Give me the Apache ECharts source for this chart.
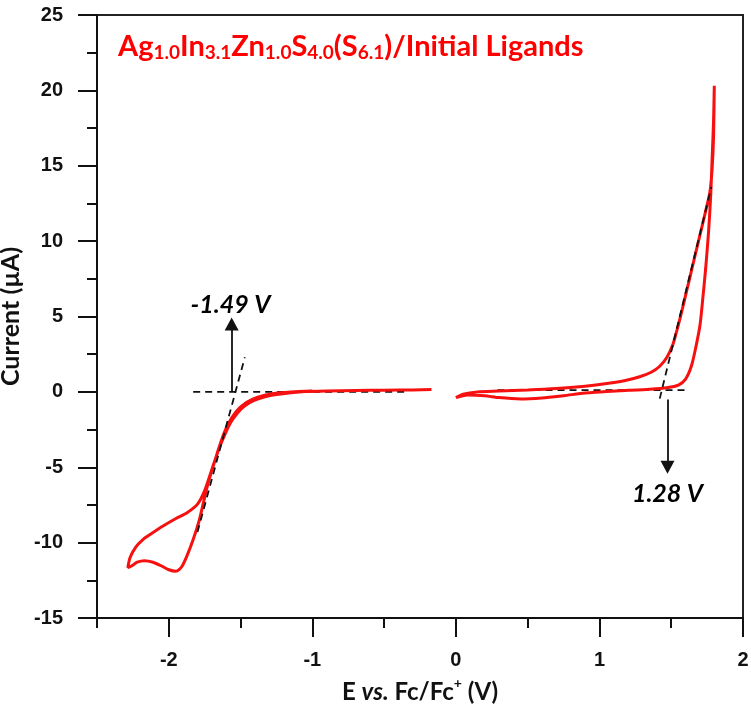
<!DOCTYPE html>
<html>
<head>
<meta charset="utf-8">
<script src="https://cdn.jsdelivr.net/npm/echarts@6/dist/echarts.min.js"></script>
<style>html,body{margin:0;padding:0;background:#fff}#c{width:751px;height:710px}</style>
</head>
<body>
<div id="c"></div>
<script>
// ---- Data ----
var xTickLabels = [-2, -1, 0, 1, 2];
var xMinorTicks = [-2.5, -1.5, -0.5, 0.5, 1.5];
var yTickLabels = [-15, -10, -5, 0, 5, 10, 15, 20, 25];

// Cathodic part of the CV (E in V vs Fc/Fc+, current in µA)
var cvLeftE = [-0.17, -0.3, -0.5, -0.7, -0.9, -1.05, -1.15, -1.25, -1.33, -1.41, -1.47, -1.52, -1.57, -1.61, -1.65, -1.70, -1.75,
  -1.80, -1.87, -1.95, -2.04, -2.12, -2.18, -2.23, -2.27, -2.285,
  -2.26, -2.22, -2.17, -2.11, -2.05, -2.0, -1.95, -1.91, -1.87, -1.83, -1.79, -1.76, -1.73, -1.69, -1.64, -1.59, -1.53, -1.46, -1.38, -1.28, -1.15, -1.0];
var cvLeftI = [0.15, 0.13, 0.11, 0.09, 0.06, 0.02, -0.06, -0.18, -0.33, -0.58, -0.93, -1.38, -2.05, -2.85, -3.75, -5.15, -6.55,
  -7.45, -8.0, -8.4, -8.9, -9.4, -9.8, -10.3, -11.0, -11.65,
  -11.55, -11.3, -11.2, -11.3, -11.55, -11.8, -11.9, -11.6, -10.8, -9.8, -8.6, -7.4, -6.2, -4.9, -3.4, -2.2, -1.3, -0.7, -0.35, -0.12, 0.0, 0.05];

// Anodic part of the CV
var cvRightE = [0.0, 0.08, 0.2, 0.3, 0.45, 0.6, 0.75, 0.9, 1.05, 1.2, 1.35, 1.47, 1.55, 1.6, 1.64, 1.67, 1.70, 1.72, 1.74, 1.76, 1.775, 1.785, 1.795, 1.80,
  1.795, 1.785, 1.77, 1.745, 1.72, 1.69, 1.66, 1.63, 1.60, 1.57, 1.54, 1.51, 1.47, 1.42, 1.36, 1.28, 1.18, 1.05, 0.9, 0.7, 0.5, 0.3, 0.15, 0.05, 0.0];
var cvRightI = [-0.38, -0.2, -0.25, -0.38, -0.47, -0.4, -0.25, -0.08, 0.03, 0.1, 0.18, 0.28, 0.45, 0.85, 1.7, 2.9, 4.4, 6.2, 8.2, 10.6, 13.0, 15.5, 18.0, 20.3,
  17.0, 14.8, 13.3, 12.2, 11.2, 10.0, 8.8, 7.6, 6.4, 5.2, 4.1, 3.1, 2.3, 1.7, 1.3, 1.0, 0.75, 0.55, 0.38, 0.22, 0.12, 0.05, 0.0, -0.15, -0.38];

// Onset construction lines (dashed): [E1, I1, E2, I2]
var leftBaseline = [-1.83, 0.0, -0.35, 0.0];
var leftTangent = [-1.80, -9.3, -1.47, 2.3];
var rightBaseline = [0.29, 0.12, 1.62, 0.12];
var rightTangent = [1.42, -0.45, 1.78, 13.6];

// Arrows: [E, I start, I end]
var leftArrow = [-1.562, 0.0, 4.5];
var rightArrow = [1.474, -0.5, -5.0];

// Annotation texts
var annotE = [-1.57, 1.474];
var annotI = [5.75, -6.75];
var annotText = ['-1.49 V', '1.28 V'];

function zip(a, b) { return a.map(function (v, i) { return [v, b[i]]; }); }
function seg(s) { return [[s[0], s[1]], [s[2], s[3]]]; }

var RED = '#f71010';
var dashStyle = { color: '#111', width: 1.8, type: [7, 5] };

var chart = echarts.init(document.getElementById('c'), null, { renderer: 'canvas' });

var option = {
  backgroundColor: '#fff',
  animation: false,
  title: {
    left: 113,
    top: 27,
    text: '{m|Ag}{s|1.0}{m|In}{s|3.1}{m|Zn}{s|1.0}{m|S}{s|4.0}{m|(S}{s|6.1}{m|)/Initial Ligands}',
    textStyle: {
      rich: {
        m: { fontFamily: 'Lato', fontWeight: 'bold', fontSize: 29, color: '#ff0000', lineHeight: 30, verticalAlign: 'top' },
        s: { fontFamily: 'Lato', fontWeight: 'bold', fontSize: 19, color: '#ff0000', lineHeight: 19, verticalAlign: 'bottom', padding: [17, 0, 0, 0] }
      }
    }
  },
  grid: { left: 97, right: 8, top: 15, bottom: 92, show: true, borderColor: '#222', borderWidth: 2, outerBoundsMode: 'none' },
  xAxis: [{
    type: 'value', min: -2.5, max: 2, position: 'bottom',
    name: '{n|E }{i|vs.}{n| Fc/Fc}{sup|+}{n| (V)}',
    nameLocation: 'middle', nameGap: 58,
    nameTextStyle: {
      rich: {
        n: { fontFamily: 'Lato', fontWeight: 'bold', fontSize: 24, color: '#111', lineHeight: 28, verticalAlign: 'bottom' },
        i: { fontFamily: 'Lato', fontWeight: 'bold', fontStyle: 'italic', fontSize: 24, color: '#111', lineHeight: 28, verticalAlign: 'bottom' },
        sup: { fontFamily: 'Lato', fontWeight: 'bold', fontSize: 14, color: '#111', lineHeight: 28, verticalAlign: 'top' }
      }
    },
    axisLine: { show: true, onZero: false, lineStyle: { color: '#111', width: 2 } },
    axisTick: { show: true, inside: false, length: 19, customValues: xTickLabels, lineStyle: { color: '#111', width: 2 } },
    axisLabel: { show: true, customValues: xTickLabels, margin: 32, fontFamily: 'Liberation Sans', fontWeight: 'bold', fontSize: 20, color: '#111' },
    splitLine: { show: false }
  }, {
    type: 'value', min: -2.5, max: 2, position: 'bottom',
    axisLine: { show: false, onZero: false },
    axisTick: { show: true, inside: false, length: 10, customValues: xMinorTicks, lineStyle: { color: '#111', width: 2 } },
    axisLabel: { show: false },
    splitLine: { show: false }
  }],
  yAxis: {
    type: 'value', min: -15, max: 25, interval: 5,
    name: 'Current (µA)', nameLocation: 'middle', nameGap: 72, nameRotate: 90,
    nameTextStyle: { fontFamily: 'Lato', fontWeight: 'bold', fontSize: 25, color: '#111' },
    axisLine: { show: true, onZero: false, lineStyle: { color: '#111', width: 2 } },
    axisTick: { show: true, inside: false, length: 19, lineStyle: { color: '#111', width: 2 } },
    minorTick: { show: true, splitNumber: 2, length: 10, lineStyle: { color: '#111', width: 2 } },
    axisLabel: { margin: 34, fontFamily: 'Liberation Sans', fontWeight: 'bold', fontSize: 20, color: '#111' },
    splitLine: { show: false }
  },
  series: [
    { type: 'line', data: seg(leftBaseline), showSymbol: false, lineStyle: dashStyle, silent: true, z: 3 },
    { type: 'line', data: seg(rightBaseline), showSymbol: false, lineStyle: dashStyle, silent: true, z: 3 },
    { type: 'line', data: zip(cvLeftE, cvLeftI), showSymbol: false, smooth: 0.25, lineStyle: { color: RED, width: 3 }, silent: true, z: 4 },
    { type: 'line', data: zip(cvRightE, cvRightI), showSymbol: false, smooth: 0.25, lineStyle: { color: RED, width: 3 }, silent: true, z: 4 },
    { type: 'line', data: seg(leftTangent), showSymbol: false, lineStyle: dashStyle, silent: true, z: 5 },
    { type: 'line', data: seg(rightTangent), showSymbol: false, lineStyle: dashStyle, silent: true, z: 5 },
    {
      type: 'scatter', symbolSize: 0, silent: true, z: 6,
      itemStyle: { opacity: 1, color: '#000' },
      data: annotE.map(function (e, i) { return { value: [e, annotI[i]], name: annotText[i] }; }),
      label: { show: true, position: 'inside', formatter: function (p) { return p.name; },
        fontFamily: 'Lato', fontWeight: 'bold', fontStyle: 'italic', fontSize: 25, color: '#000', opacity: 1 },
      markLine: {
        silent: true, animation: false,
        symbol: ['none', 'triangle'], symbolSize: [14, 13],
        label: { show: false },
        lineStyle: { color: '#111', width: 1.8, type: 'solid', opacity: 1 },
        emphasis: { disabled: true },
        data: [
          [{ coord: [leftArrow[0], leftArrow[1]] }, { coord: [leftArrow[0], leftArrow[2]] }],
          [{ coord: [rightArrow[0], rightArrow[1]] }, { coord: [rightArrow[0], rightArrow[2]] }]
        ]
      }
    }
  ]
};
chart.setOption(option);
</script>
</body>
</html>
